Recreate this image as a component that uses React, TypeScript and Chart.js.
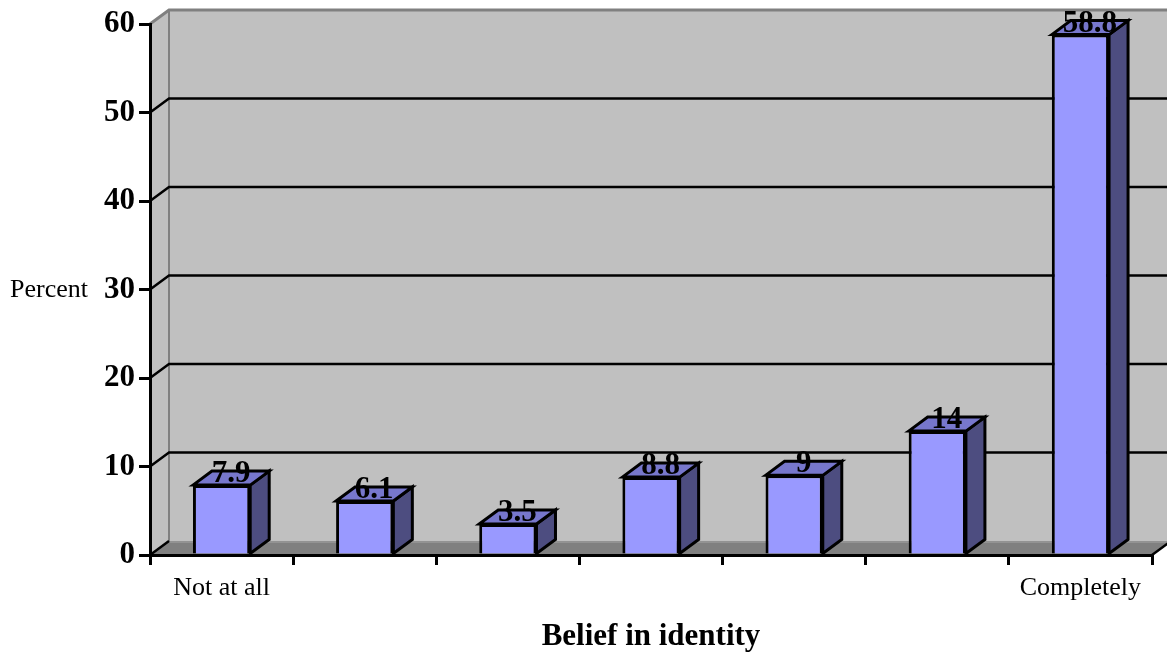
import React, { useEffect, useRef } from "react";
import { Chart, registerables } from "chart.js";

Chart.register(...registerables);

const categories = ["Not at all", "", "", "", "", "", "Completely"];
const percentValues = [7.9, 6.1, 3.5, 8.8, 9, 14, 58.8];
const valueLabels = ["7.9", "6.1", "3.5", "8.8", "9", "14", "58.8"];
const yMin = 0;
const yMax = 60;
const yStep = 10;
const yAxisTitle = "Percent";
const xAxisTitle = "Belief in identity";

const SERIF = '"Liberation Serif", "Times New Roman", Times, serif';
const DX = 19;
const DY = -14;

const threeD = {
  id: "threeD",
  beforeDraw(chart: any) {
    const { ctx, chartArea, scales } = chart;
    const y = scales.y;
    const L = chartArea.left;
    const R = chartArea.right;
    const T = chartArea.top;
    const B = chartArea.bottom;
    ctx.save();
    ctx.fillStyle = "#C0C0C0";
    ctx.beginPath();
    ctx.moveTo(L, T);
    ctx.lineTo(L + DX, T + DY);
    ctx.lineTo(L + DX, B + DY);
    ctx.lineTo(L, B);
    ctx.closePath();
    ctx.fill();
    ctx.fillRect(L + DX, T + DY, R + DX + 20 - (L + DX), B - T);
    ctx.fillStyle = "#808080";
    ctx.beginPath();
    ctx.moveTo(L, B);
    ctx.lineTo(L + DX, B + DY);
    ctx.lineTo(R + DX, B + DY);
    ctx.lineTo(R, B);
    ctx.closePath();
    ctx.fill();
    ctx.strokeStyle = "#9a9a9a";
    ctx.lineWidth = 1.5;
    ctx.beginPath();
    ctx.moveTo(L + DX, B + DY + 1);
    ctx.lineTo(R + DX + 20, B + DY + 1);
    ctx.stroke();
    ctx.strokeStyle = "#808080";
    ctx.lineWidth = 3;
    ctx.beginPath();
    ctx.moveTo(L, T);
    ctx.lineTo(L + DX, T + DY);
    ctx.lineTo(R + DX + 20, T + DY);
    ctx.stroke();
    ctx.lineWidth = 2;
    ctx.beginPath();
    ctx.moveTo(L + DX, T + DY);
    ctx.lineTo(L + DX, B + DY);
    ctx.stroke();
    ctx.strokeStyle = "#000";
    ctx.lineWidth = 2.5;
    for (let v = yMin; v < yMax; v += yStep) {
      const py = y.getPixelForValue(v);
      ctx.beginPath();
      ctx.moveTo(L, py);
      ctx.lineTo(L + DX, py + DY);
      if (v > yMin) ctx.lineTo(R + DX + 20, py + DY);
      ctx.stroke();
    }
    ctx.beginPath();
    ctx.moveTo(R, B);
    ctx.lineTo(R + DX, B + DY);
    ctx.stroke();
    ctx.restore();
  },
  afterDatasetsDraw(chart: any) {
    const { ctx } = chart;
    const meta = chart.getDatasetMeta(0);
    ctx.save();
    ctx.lineWidth = 3;
    ctx.strokeStyle = "#000";
    ctx.lineJoin = "miter";
    meta.data.forEach((bar: any, i: number) => {
      const { x, y, base, width } = bar.getProps(["x", "y", "base", "width"], true);
      const l = x - width / 2;
      const r = x + width / 2;
      ctx.fillStyle = "#4D4D80";
      ctx.beginPath();
      ctx.moveTo(r, y);
      ctx.lineTo(r + DX, y + DY);
      ctx.lineTo(r + DX, base + DY);
      ctx.lineTo(r, base);
      ctx.closePath();
      ctx.fill();
      ctx.stroke();
      ctx.fillStyle = "#7777CC";
      ctx.beginPath();
      ctx.moveTo(l, y);
      ctx.lineTo(l + DX, y + DY);
      ctx.lineTo(r + DX, y + DY);
      ctx.lineTo(r, y);
      ctx.closePath();
      ctx.fill();
      ctx.stroke();
      ctx.fillStyle = "#000";
      ctx.font = `bold 31px ${SERIF}`;
      ctx.textAlign = "center";
      ctx.textBaseline = "alphabetic";
      ctx.fillText(valueLabels[i], x + DX / 2, y - 3);
    });
    ctx.restore();
  },
  afterDraw(chart: any) {
    const { ctx, chartArea } = chart;
    ctx.save();
    ctx.fillStyle = "#000";
    ctx.textBaseline = "alphabetic";
    ctx.font = `26px ${SERIF}`;
    ctx.textAlign = "left";
    ctx.fillText(yAxisTitle, 10, 297);
    ctx.font = `bold 31px ${SERIF}`;
    ctx.textAlign = "center";
    ctx.fillText(xAxisTitle, (chartArea.left + chartArea.right) / 2, 645);
    ctx.restore();
  },
};

export default function App() {
  const ref = useRef<HTMLCanvasElement>(null);
  useEffect(() => {
    if (!ref.current) return;
    const chart = new Chart(ref.current, {
      type: "bar",
      data: {
        labels: categories,
        datasets: [
          {
            data: percentValues,
            backgroundColor: "#9999FF",
            borderColor: "#000",
            borderWidth: 3,
            barPercentage: 0.4,
            categoryPercentage: 1,
          },
        ],
      },
      options: {
        responsive: false,
        animation: false,
        layout: { padding: { top: 24, right: 15, left: 0, bottom: 0 } },
        plugins: { legend: { display: false }, tooltip: { enabled: false } },
        scales: {
          x: {
            offset: true,
            grid: { offset: true, drawOnChartArea: false, color: "#000", lineWidth: 3, tickLength: 10 },
            border: { display: true, color: "#000", width: 3 },
            ticks: { color: "#000", font: { family: SERIF, size: 26 }, padding: 8, maxRotation: 0, autoSkip: false },
            afterFit: (s: any) => {
              s.height = 99;
            },
          },
          y: {
            min: yMin,
            max: yMax,
            grid: { drawOnChartArea: false, color: "#000", lineWidth: 3, tickLength: 11 },
            border: { display: true, color: "#000", width: 3 },
            ticks: { stepSize: yStep, color: "#000", font: { family: SERIF, size: 31, weight: "bold" }, padding: 4 },
            afterFit: (s: any) => {
              s.width = 150;
            },
          },
        },
      },
      plugins: [threeD],
    });
    return () => chart.destroy();
  }, []);
  return (
    <div style={{ position: "absolute", left: 0, top: 0, width: 1167, height: 654, background: "#fff" }}>
      <canvas ref={ref} width={1167} height={654} style={{ display: "block" }} />
    </div>
  );
}
